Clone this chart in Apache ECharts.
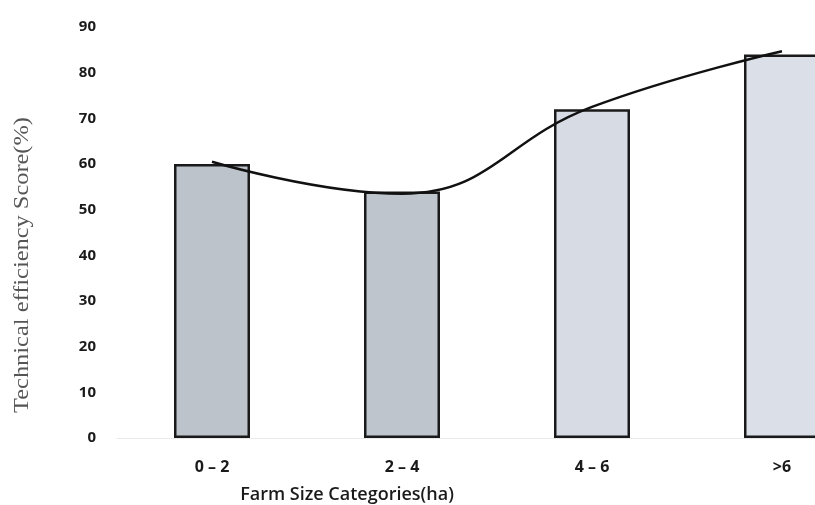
<!DOCTYPE html>
<html>
<head>
<meta charset="utf-8">
<style>
html,body{margin:0;padding:0;background:#fff;overflow:hidden;width:815px;height:505px;}
#chart{width:877px;height:505px;}
</style>
<script src="https://cdn.jsdelivr.net/npm/echarts@6/dist/echarts.min.js"></script>
</head>
<body>
<div id="chart"></div>
<script>
const categories = ['0 – 2', '2 – 4', '4 – 6', '>6'];
const barValues = [60, 54, 72, 84];
const trendValues = [60.5, 53.5, 72.5, 84.7];
const barColors = ['#bcc3cb', '#bec5cd', '#d7dce4', '#dbe0e8'];
const yTicks = [0, 10, 20, 30, 40, 50, 60, 70, 80, 90];
const yTitle = 'Technical efficiency Score(%)';
const xTitle = 'Farm Size Categories(ha)';

const chart = echarts.init(document.getElementById('chart'), null, {renderer: 'canvas'});
chart.setOption({
  animation: false,
  backgroundColor: '#ffffff',
  grid: {left: 117, top: 27, right: 0, bottom: 67, containLabel: false},
  xAxis: {
    type: 'category',
    data: categories,
    axisTick: {show: false},
    axisLine: {show: true, lineStyle: {color: '#e4e4e4', type: 'dotted', width: 1}},
    axisLabel: {
      margin: 21,
      fontFamily: 'Open Sans',
      fontWeight: 'bold',
      fontSize: 16,
      color: '#1a1a1a'
    },
    splitLine: {show: false}
  },
  yAxis: {
    type: 'value',
    min: yTicks[0],
    max: yTicks[yTicks.length - 1],
    interval: 10,
    axisLine: {show: false},
    axisTick: {show: false},
    splitLine: {show: false},
    axisLabel: {
      margin: 21,
      fontFamily: 'Open Sans',
      fontWeight: 'bold',
      fontSize: 15,
      color: '#1a1a1a'
    }
  },
  graphic: [
    {
      type: 'text',
      x: 23, y: 265,
      rotation: Math.PI / 2,
      scaleX: 1.22,
      style: {
        text: yTitle,
        fontFamily: 'Liberation Serif',
        fontSize: 20,
        fill: '#555',
        align: 'center',
        verticalAlign: 'middle'
      }
    },
    {
      type: 'text',
      x: 347, y: 495,
      style: {
        text: xTitle,
        fontFamily: 'Open Sans',
        fontWeight: 600,
        fontSize: 18,
        fill: '#1a1a1a',
        align: 'center',
        verticalAlign: 'middle'
      }
    }
  ],
  series: [
    {
      type: 'bar',
      data: barValues.map((v, i) => ({value: v, itemStyle: {color: barColors[i]}})),
      barWidth: 76,
      itemStyle: {borderColor: '#1a1a1a', borderWidth: 2.5},
      z: 2
    },
    {
      type: 'line',
      data: trendValues,
      smooth: 0.45,
      showSymbol: false,
      symbol: 'none',
      lineStyle: {color: '#111', width: 2.5},
      z: 3
    }
  ]
});
</script>
</body>
</html>
